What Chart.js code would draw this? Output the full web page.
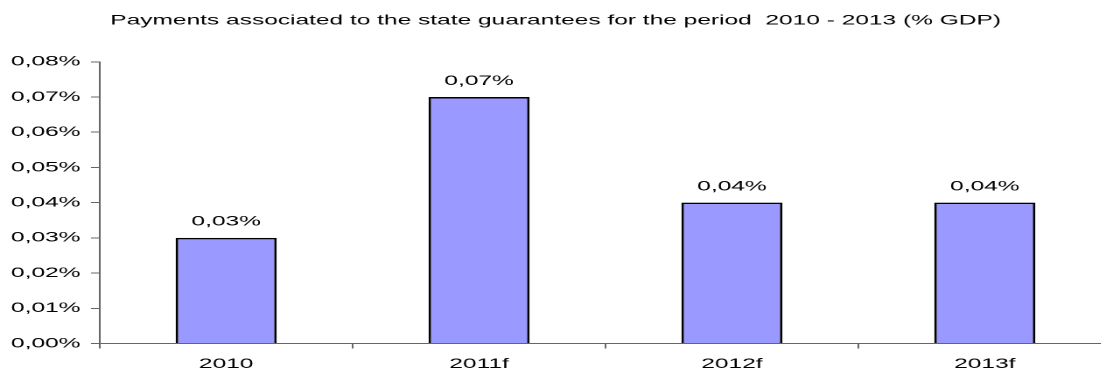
<!DOCTYPE html>
<html>
<head>
<meta charset="utf-8">
<title>Payments associated to the state guarantees</title>
<script src="https://cdn.jsdelivr.net/npm/chart.js@4/dist/chart.umd.min.js"></script>
<style>
    html, body {
        margin: 0;
        padding: 0;
        background: #fff;
        overflow: hidden;
        width: 1101px;
        height: 370px;
    }
    /* the chart is laid out narrow, then stretched sideways like the exported Excel chart */
    #wrap {
        width: 635px;
        height: 370px;
        transform: scaleX(1.75);
        transform-origin: 0 0;
    }
</style>
</head>
<body>
<div id="wrap">
    <canvas id="paymentsChart" width="635" height="370"></canvas>
</div>
<script>
// Chart data (% of GDP)
const categories = ['2010', '2011f', '2012f', '2013f'];
const payments = [0.03, 0.07, 0.04, 0.04];
const yTicks = [0, 0.01, 0.02, 0.03, 0.04, 0.05, 0.06, 0.07, 0.08];

const FONT = 'Arial, "Liberation Sans", sans-serif';
const AXIS_COLOR = '#666666';

/**
 * Format a percentage value with a decimal comma, e.g. 0.03 -> "0,03%"
 * @param {number} v
 * @returns {string}
 */
function formatPct(v) {
    return v.toFixed(2).replace('.', ',') + '%';
}

// Draws the value above each bar
const valueLabels = {
    id: 'valueLabels',
    afterDatasetsDraw(chart) {
        const ctx = chart.ctx;
        const meta = chart.getDatasetMeta(0);
        ctx.save();
        ctx.font = '14px ' + FONT;
        ctx.fillStyle = '#000';
        ctx.textAlign = 'center';
        ctx.textBaseline = 'middle';
        meta.data.forEach((bar, i) => {
            ctx.fillText(formatPct(payments[i]), bar.x, bar.y - 16);
        });
        ctx.restore();
    }
};

const ctx = document.getElementById('paymentsChart').getContext('2d');
const chart = new Chart(ctx, {
    type: 'bar',
    data: {
        labels: categories,
        datasets: [{
            data: payments,
            backgroundColor: '#9999FF',
            borderColor: '#000000',
            borderWidth: 1.5,
            borderSkipped: 'bottom',
            categoryPercentage: 1,
            barPercentage: 0.4
        }]
    },
    options: {
        responsive: false,
        animation: false,
        devicePixelRatio: 2,
        layout: { padding: { left: 0, right: 0, top: 0, bottom: 0 } },
        plugins: {
            legend: { display: false },
            tooltip: { enabled: false },
            title: {
                display: true,
                text: 'Payments associated to the state guarantees for the period  2010 - 2013 (% GDP)',
                color: '#000',
                font: { family: FONT, size: 14, weight: 'normal' },
                padding: { top: 12, bottom: 33 }
            }
        },
        scales: {
            x: {
                offset: true,
                // keep the axis low; labels sit close to the bottom edge
                afterFit(scale) {
                    scale.height = 26.5;
                },
                grid: {
                    offset: true,
                    drawOnChartArea: false,
                    drawTicks: true,
                    tickLength: 5,
                    color: AXIS_COLOR
                },
                border: { display: true, color: AXIS_COLOR, width: 1 },
                ticks: {
                    color: '#000',
                    padding: 7,
                    font: { family: FONT, size: 14 }
                }
            },
            y: {
                min: yTicks[0],
                max: yTicks[yTicks.length - 1],
                afterBuildTicks(scale) {
                    scale.ticks = yTicks.map(v => ({ value: v }));
                },
                afterFit(scale) {
                    scale.width = 57;
                },
                grid: {
                    drawOnChartArea: false,
                    drawTicks: true,
                    tickLength: 5,
                    color: AXIS_COLOR
                },
                border: { display: true, color: AXIS_COLOR, width: 1 },
                ticks: {
                    color: '#000',
                    padding: 6,
                    font: { family: FONT, size: 14 },
                    callback: v => formatPct(v)
                }
            }
        }
    },
    plugins: [valueLabels]
});
</script>
</body>
</html>
